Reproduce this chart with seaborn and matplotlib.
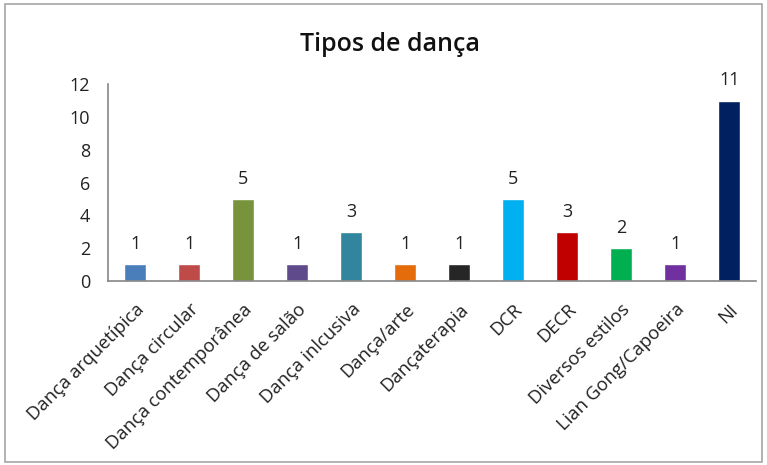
import matplotlib
matplotlib.use('Agg')
import matplotlib.pyplot as plt
import seaborn as sns
import pandas as pd
from matplotlib.patches import Rectangle

categories = ['Dança arquetípica', 'Dança circular', 'Dança contemporânea', 'Dança de salão',
              'Dança inlcusiva', 'Dança/arte', 'Dançaterapia', 'DCR', 'DECR',
              'Diversos estilos', 'Lian Gong/Capoeira', 'NI']
counts = [1, 1, 5, 1, 3, 1, 1, 5, 3, 2, 1, 11]
bar_colors = ['#4a7ebb', '#be4b48', '#77933c', '#5f4b8b', '#31859c', '#e46c0a',
              '#262626', '#00b0f0', '#c00000', '#00b050', '#7030a0', '#002060']
y_ticks = [0, 2, 4, 6, 8, 10, 12]

sns.set_style('white')
plt.rcParams['font.family'] = ['Open Sans', 'DejaVu Sans']

df = pd.DataFrame({'Tipo': categories, 'Qtd': counts})

fig = plt.figure(figsize=(7.67, 4.65), dpi=100)
ax = fig.add_axes([0.141, 0.396, 0.845, 0.423])

sns.barplot(data=df, x='Tipo', y='Qtd', hue='Tipo', palette=bar_colors,
            legend=False, width=0.4, saturation=1, ax=ax)

for container in ax.containers:
    ax.bar_label(container, padding=8, fontsize=13, color='#222222')

ax.set_ylim(0, 12)
ax.set_yticks(y_ticks)
ax.set_xlim(-0.5, len(categories) - 0.5)
ax.set_xlabel('')
ax.set_ylabel('')
ax.tick_params(axis='y', length=0, pad=13, labelsize=13, labelcolor='#222222')
ax.tick_params(axis='x', length=0, pad=14, labelsize=13.3, labelcolor='#222222')
plt.setp(ax.get_xticklabels(), rotation=45, ha='right', rotation_mode='anchor')

sns.despine(ax=ax)
for side in ['left', 'bottom']:
    ax.spines[side].set_color('#868686')
    ax.spines[side].set_linewidth(1.2)

fig.text(0.508, 0.905, 'Tipos de dança', ha='center', va='center',
         fontsize=18, fontweight='semibold', color='#111111')

# moldura cinza da figura
fig.patches.append(Rectangle((0.006, 0.006), 0.988, 0.985, transform=fig.transFigure,
                             fill=False, edgecolor='#a6a6a6', linewidth=1.2))

fig.savefig('out.png', dpi=100)
